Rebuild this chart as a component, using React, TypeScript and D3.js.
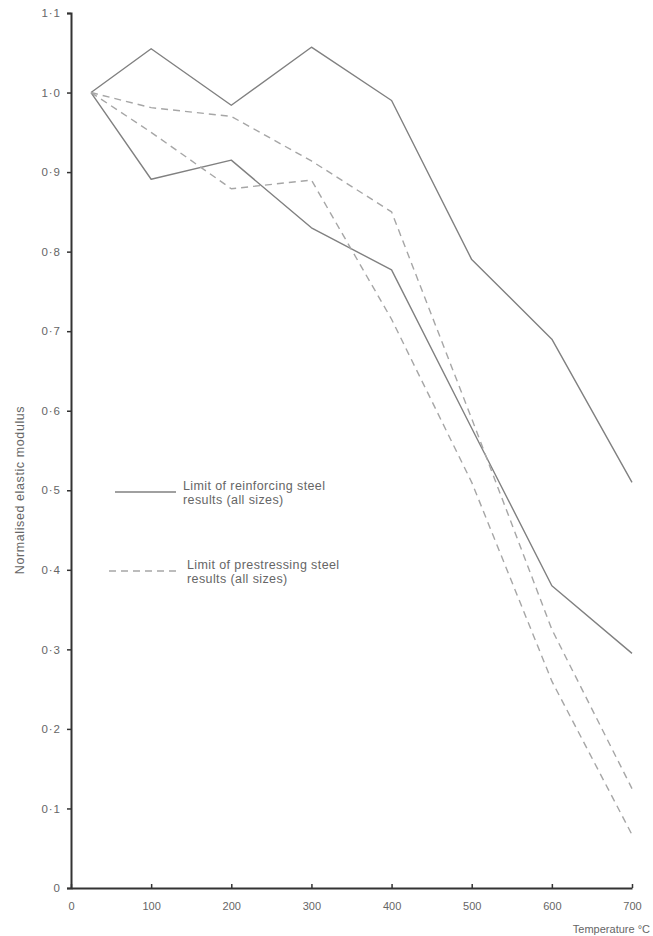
import React, { useEffect, useRef } from 'react';
import * as d3 from 'd3';

// Temperatures (°C) at which the limit curves were read
const temps = [25, 100, 200, 300, 400, 500, 600, 700];

// Limits of reinforcing steel results (solid)
const reinforcingUpper = [1.0, 1.055, 0.984, 1.057, 0.99, 0.79, 0.69, 0.51];
const reinforcingLower = [1.0, 0.891, 0.915, 0.83, 0.777, 0.578, 0.38, 0.295];

// Limits of prestressing steel results (dashed)
const prestressUpper = [1.0, 0.981, 0.97, 0.914, 0.85, 0.59, 0.325, 0.125];
const prestressLower = [1.0, 0.95, 0.879, 0.89, 0.715, 0.51, 0.26, 0.067];

const xTicks = [0, 100, 200, 300, 400, 500, 600, 700];
const yTicks = [0, 0.1, 0.2, 0.3, 0.4, 0.5, 0.6, 0.7, 0.8, 0.9, 1.0, 1.1];
const yTickLabels = ['0', '0·1', '0·2', '0·3', '0·4', '0·5', '0·6', '0·7', '0·8', '0·9', '1·0', '1·1'];

const legendItems = [
  { lines: ['Limit of reinforcing steel', 'results (all sizes)'], dashed: false },
  { lines: ['Limit of prestressing steel', 'results (all sizes)'], dashed: true },
];

const FONT = '"Liberation Sans", Arial, sans-serif';
const TEXT = '#666';
const SOLID = '#808080';
const DASHED = '#a6a6a6';

const App = () => {
  const ref = useRef<SVGSVGElement>(null);

  useEffect(() => {
    const svg = d3.select(ref.current);
    svg.selectAll('*').remove();

    const width = 653;
    const height = 936;

    svg.attr('width', width).attr('height', height);
    svg.append('rect').attr('width', width).attr('height', height).attr('fill', '#fff');

    // Scales
    const x = d3.scaleLinear().domain([0, 700]).range([71, 632]);
    const y = d3.scaleLinear().domain([0, 1.1]).range([888, 13]);

    const line = d3.line<number>()
      .x((d, i) => x(temps[i]))
      .y(d => y(d));

    // Data lines
    const series = [
      { values: reinforcingUpper, dashed: false },
      { values: reinforcingLower, dashed: false },
      { values: prestressUpper, dashed: true },
      { values: prestressLower, dashed: true },
    ];
    series.forEach(s => {
      svg.append('path')
        .datum(s.values)
        .attr('fill', 'none')
        .attr('stroke', s.dashed ? DASHED : SOLID)
        .attr('stroke-width', 1.4)
        .attr('stroke-dasharray', s.dashed ? '7 5' : null)
        .attr('stroke-linejoin', 'round')
        .attr('d', line);
    });

    // Y axis
    const yAxis = svg.append('g')
      .attr('transform', `translate(${x(0)},0)`)
      .call(d3.axisLeft(y).tickValues(yTicks).tickSize(4).tickPadding(6)
        .tickFormat((d, i) => yTickLabels[i]));
    yAxis.select('.domain').attr('stroke', '#333').attr('stroke-width', 2);
    yAxis.selectAll('line').attr('stroke', '#333').attr('stroke-width', 1.5);
    yAxis.selectAll('text')
      .attr('fill', TEXT)
      .style('font-family', FONT)
      .style('font-size', '11.5px')
      .style('letter-spacing', '1px');

    // X axis
    const xAxis = svg.append('g')
      .attr('transform', `translate(0,${y(0)})`)
      .call(d3.axisBottom(x).tickValues(xTicks).tickSizeInner(-4).tickSizeOuter(0).tickPadding(14));
    xAxis.select('.domain').attr('stroke', '#333').attr('stroke-width', 2);
    xAxis.selectAll('line').attr('stroke', '#333').attr('stroke-width', 1.5);
    xAxis.selectAll('text')
      .attr('fill', TEXT)
      .style('font-family', FONT)
      .style('font-size', '11px');

    // Axis titles
    svg.append('text')
      .attr('x', 650)
      .attr('y', 933)
      .attr('text-anchor', 'end')
      .attr('fill', TEXT)
      .style('font-family', FONT)
      .style('font-size', '11px')
      .text('Temperature °C');

    svg.append('text')
      .attr('transform', 'translate(24,490) rotate(-90)')
      .attr('text-anchor', 'middle')
      .attr('fill', TEXT)
      .style('font-family', FONT)
      .style('font-size', '12.5px')
      .style('letter-spacing', '0.6px')
      .text('Normalised elastic modulus');

    // Legend
    const legendPos = [
      { x1: 115, x2: 176, ly: 492, tx: 183, ty: 490 },
      { x1: 109, x2: 176, ly: 571, tx: 187, ty: 569 },
    ];
    legendItems.forEach((item, i) => {
      const p = legendPos[i];
      svg.append('line')
        .attr('x1', p.x1).attr('x2', p.x2)
        .attr('y1', p.ly).attr('y2', p.ly)
        .attr('stroke', item.dashed ? DASHED : SOLID)
        .attr('stroke-width', 1.4)
        .attr('stroke-dasharray', item.dashed ? '7 5' : null);
      const t = svg.append('text')
        .attr('x', p.tx)
        .attr('y', p.ty)
        .attr('fill', TEXT)
        .style('font-family', FONT)
        .style('font-size', '12.5px')
        .style('letter-spacing', '0.4px');
      item.lines.forEach((l, j) => {
        t.append('tspan').attr('x', p.tx).attr('dy', j === 0 ? 0 : 14).text(l);
      });
    });
  }, []);

  return (
    <svg ref={ref} style={{ position: 'absolute', left: 0, top: 0, display: 'block' }} />
  );
};

export default App;
